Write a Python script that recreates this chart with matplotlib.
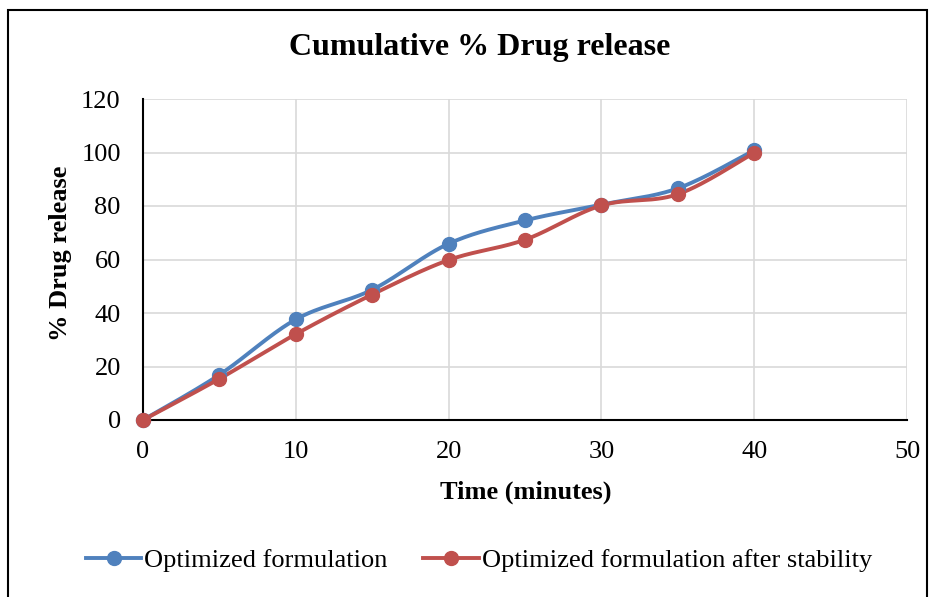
import numpy as np
import matplotlib
matplotlib.use("Agg")
import matplotlib.pyplot as plt
from matplotlib.patches import Rectangle

time_min = [0, 5, 10, 15, 20, 25, 30, 35, 40]
optimized = [0, 16.9, 37.6, 48.7, 65.9, 74.6, 80.5, 86.6, 100.8]
after_stability = [0, 15.4, 32.1, 46.9, 59.8, 67.4, 80.2, 84.4, 99.9]
series_names = ["Optimized formulation", "Optimized formulation after stability"]
colors = ["#4f81bd", "#c0504d"]

plt.rcParams['font.family'] = ['Liberation Serif', 'DejaVu Serif']


def smooth(x, y, n=30):
    # Catmull-Rom (Excel-like smoothing) through the data points
    x = np.asarray(x, float)
    y = np.asarray(y, float)
    px = np.concatenate([[x[0]], x, [x[-1]]])
    py = np.concatenate([[y[0]], y, [y[-1]]])
    xs, ys = [], []
    t = np.linspace(0, 1, n)
    for i in range(1, len(px) - 2):
        p0x, p1x, p2x, p3x = px[i - 1], px[i], px[i + 1], px[i + 2]
        p0y, p1y, p2y, p3y = py[i - 1], py[i], py[i + 1], py[i + 2]
        c1x = p1x + (p2x - p0x) / 6
        c1y = p1y + (p2y - p0y) / 6
        c2x = p2x - (p3x - p1x) / 6
        c2y = p2y - (p3y - p1y) / 6
        bx = (1 - t) ** 3 * p1x + 3 * (1 - t) ** 2 * t * c1x + 3 * (1 - t) * t ** 2 * c2x + t ** 3 * p2x
        by = (1 - t) ** 3 * p1y + 3 * (1 - t) ** 2 * t * c1y + 3 * (1 - t) * t ** 2 * c2y + t ** 3 * p2y
        xs.extend(bx)
        ys.extend(by)
    return np.array(xs), np.array(ys)


fig = plt.figure(figsize=(9.38, 5.97), dpi=100)
ax = fig.add_axes([143 / 938, 1 - 420 / 597, (907 - 143) / 938, (420 - 99) / 597])

for ys, name, c in zip([optimized, after_stability], series_names, colors):
    sx, sy = smooth(time_min, ys)
    ax.plot(sx, sy, color=c, lw=2.8, solid_capstyle='round', zorder=3, clip_on=False)
    ax.plot(time_min, ys, 'o', color=c, ms=10, zorder=4, clip_on=False)
    ax.plot([], [], '-o', color=c, lw=2.8, ms=10, label=name)

ax.set_xlim(0, 50)
ax.set_ylim(0, 120)
ax.set_xticks(range(0, 51, 10))
ax.set_yticks(range(0, 121, 20))
ax.grid(True, color='#d9d9d9', lw=1.2)
ax.set_axisbelow(True)
ax.tick_params(length=0, labelsize=19)
ax.tick_params(axis='x', pad=15)
ax.tick_params(axis='y', pad=16)
for s in ['top', 'right']:
    ax.spines[s].set_visible(False)
for s in ['left', 'bottom']:
    ax.spines[s].set_color('black')
    ax.spines[s].set_linewidth(1.5)
    ax.spines[s].set_zorder(2.5)

ax.set_xlabel("Time (minutes)", fontsize=19, fontweight='bold')
ax.xaxis.set_label_coords(526 / 938, 1 - 492 / 597, transform=fig.transFigure)
ax.xaxis.label.set_verticalalignment('center')
ax.set_ylabel("% Drug release", fontsize=19, fontweight='bold')
ax.yaxis.set_label_coords(60 / 938, 1 - 253 / 597, transform=fig.transFigure)
ax.yaxis.label.set_verticalalignment('center')

fig.text(480 / 938, 1 - 48 / 597, "Cumulative % Drug release", fontsize=23,
         fontweight='bold', ha='center', va='center')

leg = fig.legend(loc='center', bbox_to_anchor=(479 / 938, 1 - 560 / 597), ncol=2,
                 frameon=False, fontsize=19, handlelength=2.1, handletextpad=0.12,
                 columnspacing=1.35, borderpad=0, borderaxespad=0)

fig.patches.append(Rectangle((7.5 / 938, -0.1), (927 - 7.5) / 938, 1.1 - 9.5 / 597,
                             transform=fig.transFigure, fill=False, ec='black', lw=1.5))

fig.savefig("out.png", dpi=100)
